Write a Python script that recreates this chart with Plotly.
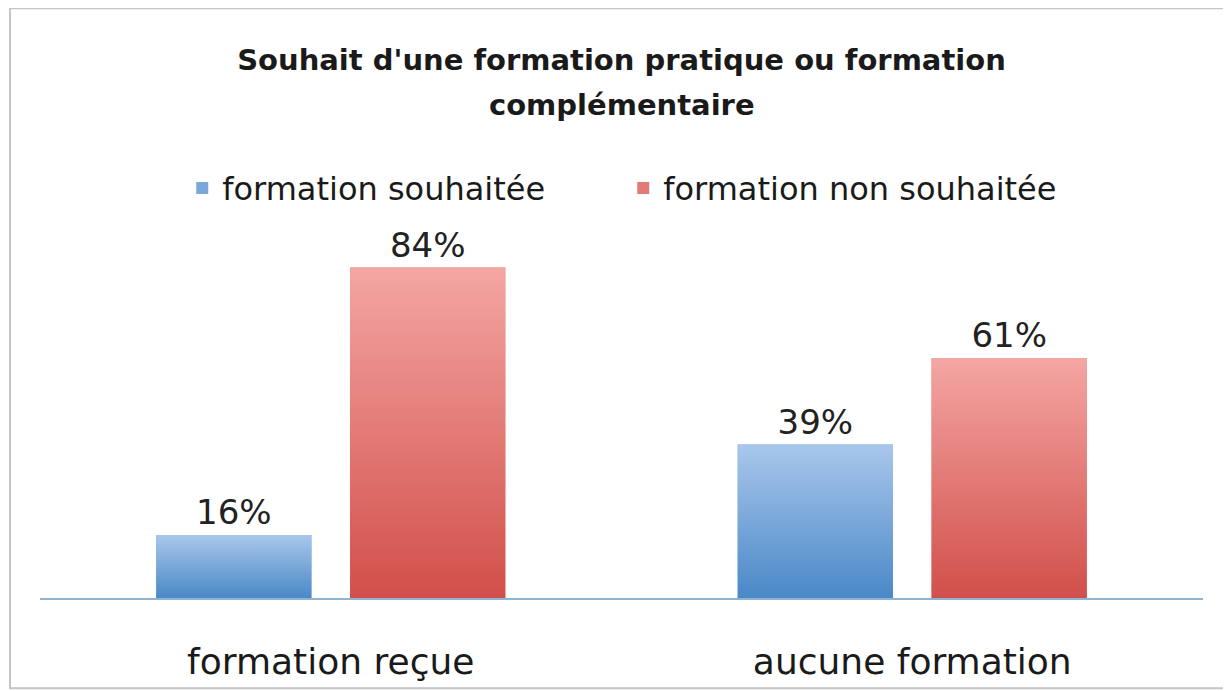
import plotly.graph_objects as go

categories = ["formation reçue", "aucune formation"]
series_names = ["formation souhaitée", "formation non souhaitée"]
souhaitee = [16, 39]
non_souhaitee = [84, 61]
labels_souhaitee = ["16%", "39%"]
labels_non = ["84%", "61%"]

title_line1 = "Souhait d'une formation pratique ou formation"
title_line2 = "complémentaire"

FONT = "'DejaVu Sans', sans-serif"
blue_top, blue_bot, blue_mid = "#a9c7eb", "#4a88c7", "#7aa8da"
red_top, red_bot, red_mid = "#f4a6a3", "#d14f4a", "#e47a76"

xpos = list(range(len(categories)))
BW = 0.267          # bar width in category units
SHIFT = 0.1667      # center offset of each bar in a group

fig = go.Figure()

series = [
    (series_names[0], souhaitee, labels_souhaitee, -SHIFT, blue_mid, blue_top, blue_bot),
    (series_names[1], non_souhaitee, labels_non, SHIFT, red_mid, red_top, red_bot),
]

for name, vals, labs, sh, mid, top, bot in series:
    fig.add_trace(go.Bar(
        name=name,
        x=[p + sh for p in xpos],
        y=vals,
        width=BW,
        marker=dict(color=mid, line=dict(width=0)),
        text=labs,
        textposition="outside",
        textfont=dict(size=34, color="#222222", family=FONT),
        cliponaxis=False,
        showlegend=True,
    ))
    # gradient overlay for each bar
    for p, v in zip(xpos, vals):
        x0, x1 = p + sh - BW / 2, p + sh + BW / 2
        fig.add_trace(go.Scatter(
            x=[x0, x1, x1, x0, x0],
            y=[0, 0, v, v, 0],
            mode="lines",
            line=dict(width=0),
            fill="toself",
            fillgradient=dict(type="vertical", colorscale=[[0, bot], [1, top]]),
            hoverinfo="skip",
            showlegend=False,
        ))

fig.update_layout(
    width=1231,
    height=691,
    margin=dict(l=32, r=36, t=225, b=101),
    paper_bgcolor="white",
    plot_bgcolor="white",
    barmode="overlay",
    title=dict(
        text="<b>" + title_line1 + "</b>",
        x=0.5, xref="paper", xanchor="center",
        y=0.925, yref="container", yanchor="middle",
        font=dict(size=29, color="#1a1a1a", family=FONT),
    ),
    annotations=[dict(
        text="<b>" + title_line2 + "</b>",
        x=0.5, xref="paper", xanchor="center",
        y=1.351, yref="paper", yanchor="middle",
        showarrow=False,
        font=dict(size=29, color="#1a1a1a", family=FONT),
    )],
    legend=dict(
        orientation="h",
        x=0.5015, xanchor="center",
        y=1.123, yanchor="middle",
        font=dict(size=32, color="#1a1a1a", family=FONT),
        itemwidth=30,
        entrywidth=396,
        entrywidthmode="pixels",
        bgcolor="rgba(0,0,0,0)",
    ),
    xaxis=dict(
        range=[-0.5, 1.5],
        tickmode="array",
        tickvals=xpos,
        ticktext=categories,
        showgrid=False,
        zeroline=False,
        showline=True,
        linecolor="#8fb4d0",
        linewidth=2,
        ticks="",
        ticklabelstandoff=31,
        tickfont=dict(size=36, color="#1a1a1a", family=FONT),
    ),
    yaxis=dict(
        range=[0, 92.8],
        visible=False,
        showgrid=False,
        zeroline=False,
    ),
    shapes=[dict(
        type="rect", xref="paper", yref="paper",
        x0=-0.0258, x1=1.019, y0=-0.247, y1=1.616,
        line=dict(color="#c4c4c4", width=2),
        fillcolor="rgba(0,0,0,0)",
        layer="below",
    )],
)

fig.write_html("out.html")
